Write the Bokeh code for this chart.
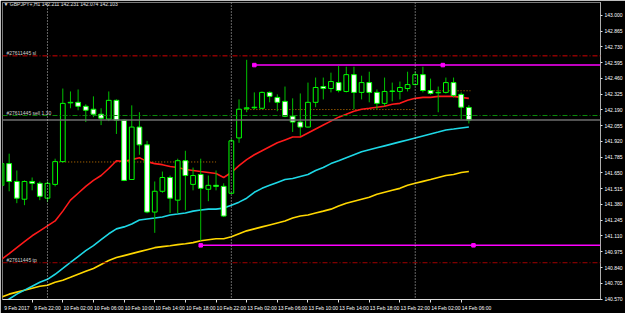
from bokeh.plotting import figure
from bokeh.models import (ColumnDataSource, Range1d, LinearAxis, FixedTicker, Span, Label,
                          PrintfTickFormatter)
from bokeh.embed import file_html
from bokeh.resources import INLINE

# ---------------- data (GBPJPY+, H1) ----------------
bar_index = list(range(62))
opens = [141.544, 141.730, 141.577, 141.425, 141.577, 141.561, 141.434, 141.552, 141.747, 142.250,
         142.255, 142.221, 142.196, 142.153, 142.111, 142.272, 142.102, 141.594, 142.043, 141.891,
         141.315, 141.493, 141.611, 141.417, 141.755, 141.552, 141.637, 141.510, 141.544, 141.535,
         141.476, 141.950, 142.200, 142.208, 142.204, 142.340, 142.297, 142.263, 142.136, 142.086,
         142.043, 142.255, 142.390, 142.373, 142.424, 142.348, 142.492, 142.340, 142.424, 142.340,
         142.246, 142.348, 142.348, 142.373, 142.407, 142.492, 142.356, 142.336, 142.340, 142.424,
         142.323, 142.211]
highs = [141.745, 141.815, 141.671, 141.586, 141.611, 141.577, 141.577, 141.772, 142.373, 142.348,
         142.365, 142.238, 142.306, 142.204, 142.348, 142.280, 142.111, 142.229, 142.170, 141.925,
         141.577, 141.662, 141.628, 141.772, 141.840, 141.696, 141.772, 141.628, 141.671, 141.561,
         141.942, 142.280, 142.619, 142.340, 142.348, 142.348, 142.323, 142.390, 142.289, 142.331,
         142.424, 142.467, 142.467, 142.509, 142.568, 142.560, 142.560, 142.483, 142.517, 142.365,
         142.467, 142.424, 142.433, 142.517, 142.517, 142.560, 142.458, 142.390, 142.467, 142.467,
         142.340, 142.231]
lows = [141.535, 141.493, 141.391, 141.374, 141.501, 141.417, 141.400, 141.535, 141.740, 142.204,
        142.187, 142.086, 142.128, 142.060, 142.094, 141.984, 141.580, 141.590, 141.806, 141.305,
        141.137, 141.480, 141.307, 141.307, 141.330, 141.501, 141.069, 141.408, 141.501, 141.273,
        141.470, 141.908, 142.170, 142.196, 142.196, 142.255, 142.179, 142.128, 142.001, 141.967,
        142.040, 142.213, 142.280, 142.340, 142.340, 142.340, 142.196, 142.280, 142.255, 142.196,
        142.221, 142.263, 142.280, 142.348, 142.400, 142.340, 142.320, 142.170, 142.330, 142.297,
        142.111, 142.074]
closes = [141.730, 141.577, 141.434, 141.577, 141.561, 141.450, 141.561, 141.747, 142.246, 142.255,
          142.221, 142.187, 142.153, 142.119, 142.272, 142.102, 141.586, 142.043, 141.891, 141.315,
          141.493, 141.611, 141.434, 141.755, 141.628, 141.628, 141.518, 141.544, 141.535, 141.281,
          141.925, 142.196, 142.208, 142.213, 142.340, 142.306, 142.255, 142.136, 142.086, 142.043,
          142.255, 142.382, 142.373, 142.433, 142.356, 142.492, 142.340, 142.424, 142.340, 142.246,
          142.348, 142.352, 142.382, 142.407, 142.492, 142.356, 142.331, 142.340, 142.424, 142.314,
          142.213, 142.103]

ma_red = [140.909, 140.959, 141.010, 141.061, 141.112, 141.154, 141.196, 141.239, 141.323, 141.417,
          141.476, 141.535, 141.586, 141.628, 141.688, 141.755, 141.747, 141.764, 141.781, 141.747,
          141.730, 141.721, 141.705, 141.696, 141.679, 141.671, 141.662, 141.654, 141.645, 141.611,
          141.654, 141.713, 141.764, 141.806, 141.840, 141.874, 141.908, 141.933, 141.958, 141.958,
          141.992, 142.026, 142.060, 142.094, 142.128, 142.153, 142.179, 142.196, 142.204, 142.213,
          142.221, 142.238, 142.246, 142.272, 142.289, 142.297, 142.297, 142.306, 142.306, 142.306,
          142.297, 142.289]
ma_cyan = [140.536, 140.570, 140.612, 140.646, 140.680, 140.714, 140.739, 140.782, 140.832, 140.883,
           140.934, 140.985, 141.027, 141.078, 141.129, 141.171, 141.188, 141.213, 141.247, 141.256,
           141.264, 141.273, 141.290, 141.298, 141.307, 141.323, 141.332, 141.340, 141.340, 141.349,
           141.374, 141.400, 141.434, 141.484, 141.518, 141.544, 141.569, 141.594, 141.603, 141.620,
           141.637, 141.671, 141.696, 141.730, 141.755, 141.781, 141.806, 141.831, 141.848, 141.865,
           141.882, 141.899, 141.916, 141.933, 141.950, 141.967, 141.984, 142.001, 142.018, 142.026,
           142.035, 142.043]
ma_yellow = [140.587, 140.612, 140.629, 140.646, 140.663, 140.680, 140.688, 140.714, 140.731, 140.756,
             140.782, 140.807, 140.832, 140.866, 140.900, 140.925, 140.942, 140.959, 140.976, 140.993,
             141.010, 141.019, 141.027, 141.036, 141.044, 141.053, 141.069, 141.078, 141.086, 141.086,
             141.103, 141.129, 141.154, 141.171, 141.188, 141.205, 141.222, 141.239, 141.264, 141.281,
             141.290, 141.307, 141.323, 141.340, 141.366, 141.391, 141.408, 141.425, 141.442, 141.467,
             141.484, 141.501, 141.518, 141.544, 141.561, 141.578, 141.594, 141.611, 141.628, 141.637,
             141.654, 141.662]

price_ticks = [143.000, 142.865, 142.730, 142.595, 142.460, 142.325, 142.190, 142.055, 141.920,
               141.785, 141.650, 141.515, 141.380, 141.245, 141.110, 140.975, 140.840, 140.705, 140.570]
time_tick_bars = [0, 4, 8, 12, 16, 20, 24, 28, 32, 36, 40, 44, 48, 52, 56, 60]
time_tick_labels = ["9 Feb 2017", "9 Feb 22:00", "10 Feb 02:00", "10 Feb 06:00", "10 Feb 10:00",
                    "10 Feb 14:00", "10 Feb 18:00", "10 Feb 22:00", "13 Feb 02:00", "13 Feb 06:00",
                    "13 Feb 10:00", "13 Feb 14:00", "13 Feb 18:00", "13 Feb 22:00", "14 Feb 02:00",
                    "14 Feb 06:00"]
day_separators = [6, 30, 54]

sl_price = 142.653
entry_price = 142.142
tp_price = 140.881
bid_price = 142.103
header_text = "\u25bc GBPJPY+,H1  142.211 142.231 142.074 142.103"
order_labels = ["#27611445 sl", "#27611445 sell 1.30", "#27611445 tp"]

magenta_start = [33, 26]
magenta_price = [142.574, 141.030]
magenta_marker_x = [33, 57.6, 26, 61.6]
magenta_marker_y = [142.574, 142.574, 141.030, 141.030]

level_start = [6.75, 31.7, 56.0]
level_end = [28.0, 54.0, 61.2]
level_price = [141.744, 142.193, 142.354]

# ---------------- figure ----------------
x_lo, x_hi = 0.13, 78.18
p = figure(width=625, height=313, x_range=Range1d(x_lo, x_hi), y_range=Range1d(140.566, 143.110),
           output_backend="svg", toolbar_location=None,
           x_axis_location=None, y_axis_location=None,
           min_border_left=2, min_border_right=22, min_border_top=2, min_border_bottom=11,
           background_fill_color="black", border_fill_color="black",
           outline_line_color="#7a7a7a")
p.grid.grid_line_color = None

FONT = "Liberation Sans"

yaxis = LinearAxis(ticker=FixedTicker(ticks=price_ticks), formatter=PrintfTickFormatter(format="%.3f"))
yaxis.axis_line_color = "#e0e0e0"
yaxis.axis_line_dash = "1 1"
yaxis.major_tick_out = 2
yaxis.major_tick_in = 0
yaxis.major_tick_line_color = "#e0e0e0"
yaxis.minor_tick_line_color = None
yaxis.major_label_standoff = 2
yaxis.major_label_text_color = "#ffffff"
yaxis.major_label_text_font = FONT
yaxis.major_label_text_font_size = "5px"
p.add_layout(yaxis, "right")

shifted = [t + 2 for t in time_tick_bars]
xaxis = LinearAxis(ticker=FixedTicker(ticks=shifted, minor_ticks=time_tick_bars))
xaxis.major_label_overrides = {s: lab for s, lab in zip(shifted, time_tick_labels)}
xaxis.axis_line_color = "#e0e0e0"
xaxis.major_tick_line_color = None
xaxis.major_tick_out = 0
xaxis.major_tick_in = 0
xaxis.minor_tick_out = 3
xaxis.minor_tick_in = 0
xaxis.minor_tick_line_color = "#e0e0e0"
xaxis.major_label_standoff = 2
xaxis.major_label_text_color = "#ffffff"
xaxis.major_label_text_font = FONT
xaxis.major_label_text_font_size = "5px"
p.add_layout(xaxis, "below")

# horizontal order lines
p.add_layout(Span(location=sl_price, dimension="width", line_color="#d00000", line_width=1,
                  line_dash="5 2 1 2"))
p.add_layout(Span(location=tp_price, dimension="width", line_color="#a00000", line_width=1,
                  line_dash="5 2 1 2"))
p.add_layout(Span(location=entry_price, dimension="width", line_color="#0a8a0a", line_width=1,
                  line_dash="5 2 1 2"))
p.add_layout(Span(location=bid_price, dimension="width", line_color="#6e6e6e", line_width=1.5))

for d in day_separators:
    p.add_layout(Span(location=d, dimension="height", line_color="#c8c8c8", line_width=1,
                      line_dash="1 2"))

# orange dotted levels
p.segment(x0=level_start, x1=level_end, y0=level_price, y1=level_price,
          line_color="#cc7a00", line_width=1, line_dash="1 2")

# magenta lines
p.segment(x0=magenta_start, x1=[x_hi] * len(magenta_start), y0=magenta_price, y1=magenta_price,
          line_color="#ff00ff", line_width=1.5)

# moving averages
p.line(bar_index, ma_yellow, line_color="#ffd700", line_width=1.6)
p.line(bar_index, ma_cyan, line_color="#1ed8e6", line_width=1.6)
p.line(bar_index, ma_red, line_color="#ff1a1a", line_width=1.6)

# candles
tops = [max(o, c) for o, c in zip(opens, closes)]
bottoms = [min(o, c) for o, c in zip(opens, closes)]
fills = ["#ffffff" if c < o else "#000000" for o, c in zip(opens, closes)]
src = ColumnDataSource(dict(x=bar_index, high=highs, low=lows, top=tops, bottom=bottoms, fill=fills))
p.segment(x0="x", x1="x", y0="low", y1="high", source=src, line_color="#00c000", line_width=1)
p.vbar(x="x", width=0.62, top="top", bottom="bottom", fill_color="fill", line_color="#00ff00",
       line_width=1, source=src)

p.scatter(magenta_marker_x, magenta_marker_y, marker="square", size=3.5, fill_color="#ff00ff",
          line_color="#ff00ff")

# texts
p.add_layout(Label(x=1, y=296, x_units="screen", y_units="screen", text=header_text,
                   text_font=FONT, text_font_size="5px", text_color="#e6e6e6",
                   text_baseline="middle"))
for lab, pr in zip(order_labels, [sl_price, entry_price, tp_price]):
    p.add_layout(Label(x=4, y=pr, x_units="screen", text=lab, text_font=FONT,
                       text_font_size="5px", text_color="#d0d0d0", text_baseline="bottom"))

p.add_layout(Label(x=603, y=bid_price, x_units="screen", text="%.3f" % bid_price, text_font=FONT,
                   text_font_size="5px", text_color="#000000", text_baseline="middle",
                   background_fill_color="#f0f0f0"))

open("out.html", "w").write(file_html(p, INLINE))
